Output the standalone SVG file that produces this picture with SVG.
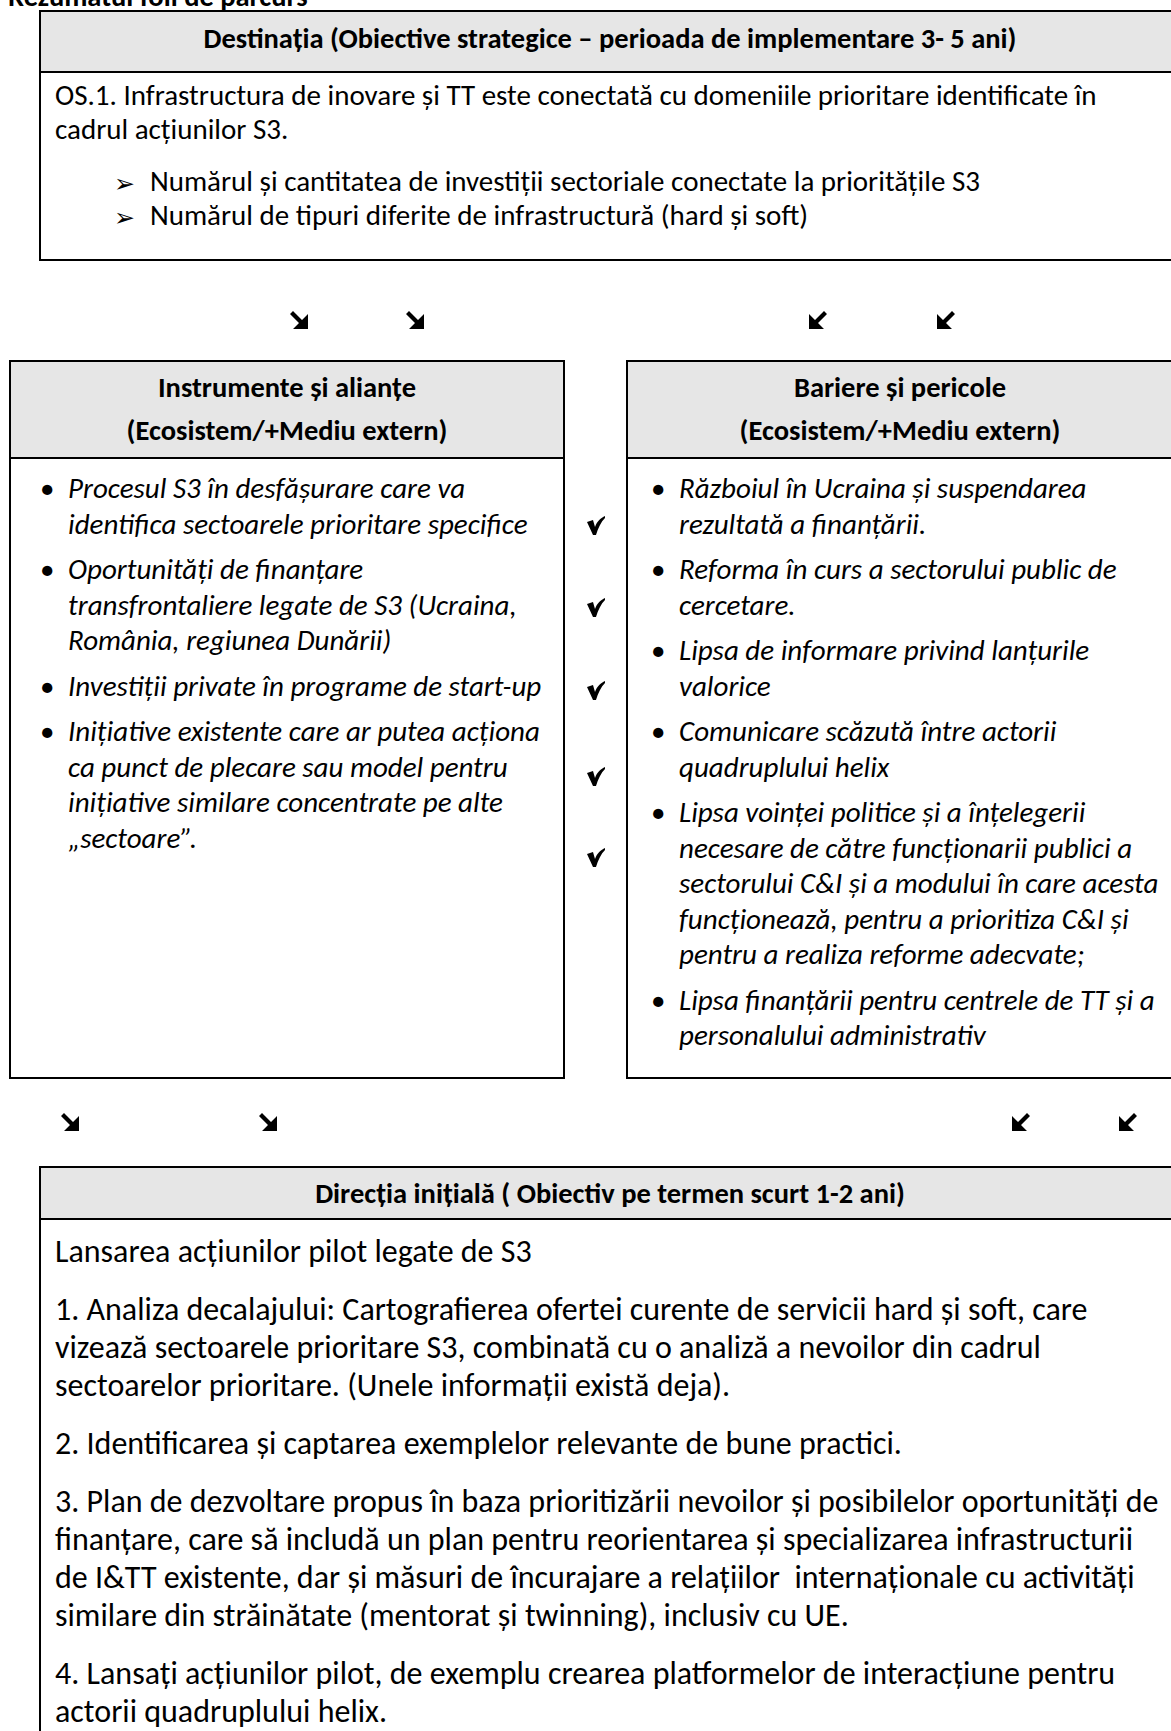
<svg xmlns="http://www.w3.org/2000/svg" width="1171" height="1731" viewBox="0 0 1171 1731">
<style>
text{font-family:Carlito,Lato,"Open Sans",sans-serif;font-size:29px;fill:#000}
.b{font-weight:bold;font-size:28.5px}
.c{text-anchor:middle}
.i{font-style:italic}
.big{font-size:32px}
.sym{font-family:"DejaVu Sans",sans-serif;font-size:25px}
.box{fill:#fff;stroke:#000;stroke-width:2}
.head{fill:#e6e6e6;stroke:#000;stroke-width:2}
.arr{fill:#000}
</style>
<defs>
<path id="dr" d="M-9,-6 L-6,-9 L3,0 L9,-6 L9,9 L-6,9 L0,3 Z"/>
<path id="ck" d="M-9,-3 L-3,-5 L-1,2 C1,-4 5,-7 9,-9 L9,-7 C5,-3 2,3 0,10 L-3,10 Z"/>
</defs>
<text class="b" x="8" y="6">Rezumatul foii de parcurs</text>
<g id="destinatia">
<rect class="box" x="40" y="11" width="1160" height="249"/>
<rect class="head" x="40" y="11" width="1160" height="61"/>
<text class="b c" x="610" y="48">Destinația (Obiective strategice – perioada de implementare 3- 5 ani)</text>
<text x="55" y="105">OS.1. Infrastructura de inovare și TT este conectată cu domeniile prioritare identificate în</text>
<text x="55" y="139">cadrul acțiunilor S3.</text>
<text class="sym" x="114" y="192">➢</text>
<text x="150" y="191">Numărul și cantitatea de investiții sectoriale conectate la prioritățile S3</text>
<text class="sym" x="114" y="226">➢</text>
<text x="150" y="225">Numărul de tipuri diferite de infrastructură (hard și soft)</text>
</g>
<g id="instrumente">
<rect class="box" x="10" y="361" width="554" height="717"/>
<rect class="head" x="10" y="361" width="554" height="97"/>
<text class="b c" x="287" y="397">Instrumente și alianțe</text>
<text class="b c" x="287" y="440">(Ecosistem/+Mediu extern)</text>
<text x="40" y="498">•</text><text class="i" x="68" y="498">Procesul S3 în desfășurare care va</text>
<text class="i" x="68" y="533.5">identifica sectoarele prioritare specifice</text>
<text x="40" y="579">•</text><text class="i" x="68" y="579">Oportunități de finanțare</text>
<text class="i" x="68" y="614.5">transfrontaliere legate de S3 (Ucraina,</text>
<text class="i" x="68" y="650">România, regiunea Dunării)</text>
<text x="40" y="695.5">•</text><text class="i" x="68" y="695.5">Investiții private în programe de start-up</text>
<text x="40" y="741">•</text><text class="i" x="68" y="741">Inițiative existente care ar putea acționa</text>
<text class="i" x="68" y="776.5">ca punct de plecare sau model pentru</text>
<text class="i" x="68" y="812">inițiative similare concentrate pe alte</text>
<text class="i" x="68" y="847.5">„sectoare”.</text>
</g>
<g id="bariere">
<rect class="box" x="627" y="361" width="560" height="717"/>
<rect class="head" x="627" y="361" width="560" height="97"/>
<text class="b c" x="900" y="397">Bariere și pericole</text>
<text class="b c" x="900" y="440">(Ecosistem/+Mediu extern)</text>
<text x="651" y="498">•</text><text class="i" x="679" y="498">Războiul în Ucraina și suspendarea</text>
<text class="i" x="679" y="533.5">rezultată a finanțării.</text>
<text x="651" y="579">•</text><text class="i" x="679" y="579">Reforma în curs a sectorului public de</text>
<text class="i" x="679" y="614.5">cercetare.</text>
<text x="651" y="660">•</text><text class="i" x="679" y="660">Lipsa de informare privind lanțurile</text>
<text class="i" x="679" y="695.5">valorice</text>
<text x="651" y="741">•</text><text class="i" x="679" y="741">Comunicare scăzută între actorii</text>
<text class="i" x="679" y="776.5">quadruplului helix</text>
<text x="651" y="822">•</text><text class="i" x="679" y="822">Lipsa voinței politice și a înțelegerii</text>
<text class="i" x="679" y="857.5">necesare de către funcționarii publici a</text>
<text class="i" x="679" y="893">sectorului C&amp;I și a modului în care acesta</text>
<text class="i" x="679" y="928.5">funcționează, pentru a prioritiza C&amp;I și</text>
<text class="i" x="679" y="964">pentru a realiza reforme adecvate;</text>
<text x="651" y="1009.5">•</text><text class="i" x="679" y="1009.5">Lipsa finanțării pentru centrele de TT și a</text>
<text class="i" x="679" y="1045">personalului administrativ</text>
</g>
<g id="directia">
<rect class="box" x="40" y="1167" width="1160" height="600"/>
<rect class="head" x="40" y="1167" width="1160" height="52"/>
<text class="b c" x="610" y="1203">Direcția inițială ( Obiectiv pe termen scurt 1-2 ani)</text>
<text class="big" x="55" y="1262">Lansarea acțiunilor pilot legate de S3</text>
<text class="big" x="55" y="1320">1. Analiza decalajului: Cartografierea ofertei curente de servicii hard și soft, care</text>
<text class="big" x="55" y="1358">vizează sectoarele prioritare S3, combinată cu o analiză a nevoilor din cadrul</text>
<text class="big" x="55" y="1396">sectoarelor prioritare. (Unele informații există deja).</text>
<text class="big" x="55" y="1454">2. Identificarea și captarea exemplelor relevante de bune practici.</text>
<text class="big" x="55" y="1512">3. Plan de dezvoltare propus în baza prioritizării nevoilor și posibilelor oportunități de</text>
<text class="big" x="55" y="1550">finanțare, care să includă un plan pentru reorientarea și specializarea infrastructurii</text>
<text class="big" x="55" y="1588" xml:space="preserve">de I&amp;TT existente, dar și măsuri de încurajare a relațiilor  internaționale cu activități</text>
<text class="big" x="55" y="1626">similare din străinătate (mentorat și twinning), inclusiv cu UE.</text>
<text class="big" x="55" y="1684">4. Lansați acțiunilor pilot, de exemplu crearea platformelor de interacțiune pentru</text>
<text class="big" x="55" y="1722">actorii quadruplului helix.</text>
</g>
<g id="connectors">
<use href="#dr" class="arr" x="299" y="320"/>
<use href="#dr" class="arr" x="415" y="320"/>
<use href="#dr" class="arr" transform="translate(818,320) scale(-1,1)"/>
<use href="#dr" class="arr" transform="translate(946,320) scale(-1,1)"/>
<use href="#ck" class="arr" x="596" y="525"/>
<use href="#ck" class="arr" x="596" y="607"/>
<use href="#ck" class="arr" x="596" y="690"/>
<use href="#ck" class="arr" x="596" y="776"/>
<use href="#ck" class="arr" x="596" y="857"/>
<use href="#dr" class="arr" x="70" y="1122"/>
<use href="#dr" class="arr" x="268" y="1122"/>
<use href="#dr" class="arr" transform="translate(1021,1122) scale(-1,1)"/>
<use href="#dr" class="arr" transform="translate(1128,1122) scale(-1,1)"/>
</g>
</svg>
